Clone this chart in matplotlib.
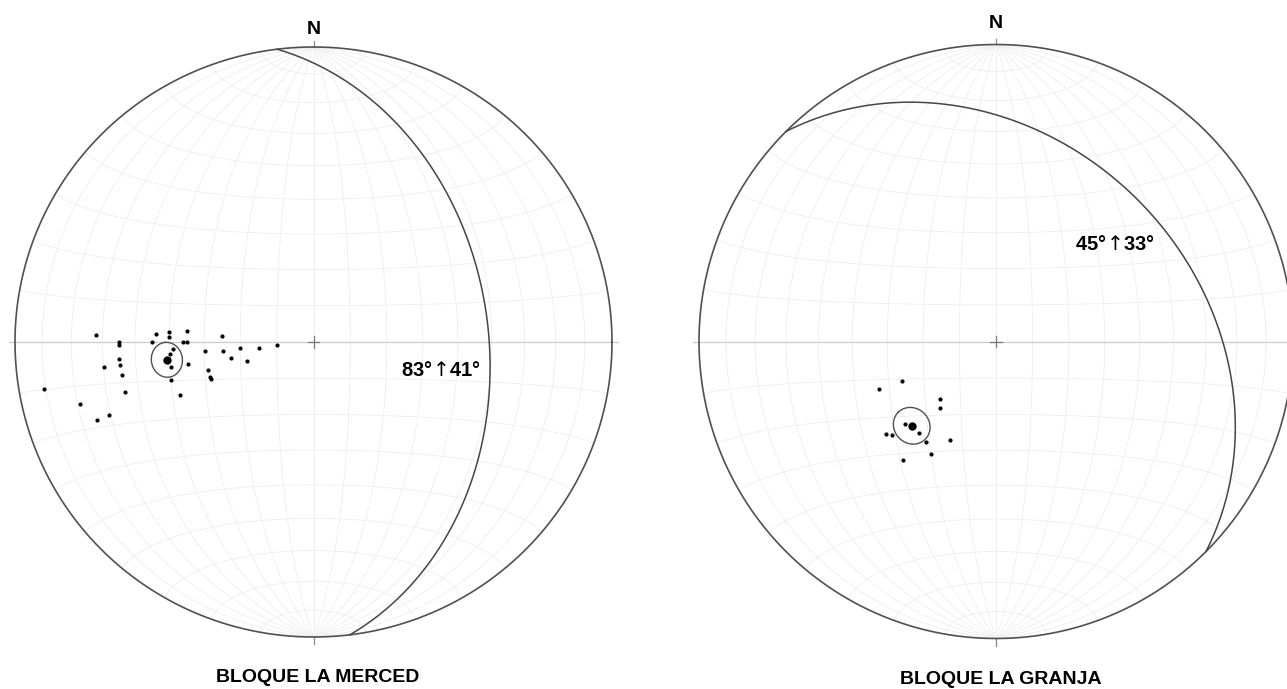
import numpy as np
import matplotlib.pyplot as plt

# poles (trend, plunge in degrees), lower hemisphere equal-area net
merced_trend = [272, 270, 269, 265, 263, 263, 260, 255, 260, 255, 250, 250,
                273, 274, 275, 270, 272, 270, 270, 267, 265, 260, 255, 260,
                248, 265, 255, 251, 250, 274, 264, 259, 265, 254, 264, 265]
merced_plunge = [28, 35, 35, 35, 30, 35, 35, 35, 9, 20, 24, 28,
                 46, 50, 55, 45, 50, 54, 55, 51, 50, 50, 49, 55,
                 50, 60, 60, 60, 60, 65, 65, 67, 70, 71, 75, 80]
merced_plane = (83, 41)   # dip direction, dip of mean plane
merced_a95 = 4.5

granja_trend = [247, 248, 224, 220, 228, 220, 230, 228, 215, 205, 210, 218]
granja_plunge = [62, 55, 68, 66, 56, 57, 50, 51, 56, 60, 54, 48]
granja_plane = (45, 33)
granja_a95 = 5.0

FONT = ['Liberation Sans', 'DejaVu Sans']
plt.rcParams['mathtext.fontset'] = 'dejavusans'


def vec(trend, plunge):
    t = np.radians(trend)
    p = np.radians(plunge)
    return np.array([np.cos(p) * np.sin(t), np.cos(p) * np.cos(t), np.sin(p)])


def proj(v):
    # equal-area lower hemisphere, v = (east, north, down)
    e, n, d = v
    k = np.sqrt(1.0 / (1.0 + d))
    return e * k, n * k


def great_circle(dipdir, dip, n=361):
    s = vec(dipdir - 90, 0)
    dv = vec(dipdir, dip)
    b = np.linspace(0, np.pi, n)
    v = np.outer(s, np.cos(b)) + np.outer(dv, np.sin(b))
    return proj(v)


def small_circle(axis, alpha, n=361):
    a = axis / np.linalg.norm(axis)
    tmp = np.array([0, 0, 1.0]) if abs(a[2]) < 0.9 else np.array([1.0, 0, 0])
    b = np.cross(a, tmp)
    b /= np.linalg.norm(b)
    c = np.cross(a, b)
    phi = np.linspace(0, 2 * np.pi, n)
    al = np.radians(alpha)
    v = (np.outer(a, np.ones_like(phi)) * np.cos(al)
         + np.sin(al) * (np.outer(b, np.cos(phi)) + np.outer(c, np.sin(phi))))
    x, y = proj(np.where(v[2] >= -1e-9, v, np.nan))
    return x, y


def draw_net(ax, trend, plunge, plane, a95, title, lab_xy, n_y):
    grid = dict(color='#eeeeee', lw=0.6, zorder=1)
    for dip in range(10, 90, 10):
        for dd in (90, 270):
            ax.plot(*great_circle(dd, dip), **grid)
    ax.plot([0, 0], [-1, 1], **grid)
    phi = np.linspace(0, np.pi, 181)
    for al in range(10, 90, 10):
        a = np.radians(al)
        for sgn in (1, -1):
            v = np.array([np.sin(a) * np.cos(phi), sgn * np.cos(a) * np.ones_like(phi),
                          np.sin(a) * np.sin(phi)])
            ax.plot(*proj(v), **grid)

    ax.plot([-1.02, 1.02], [0, 0], color='#cccccc', lw=0.9, zorder=2)
    ax.plot([0, 0], [1.0, 1.02], color='#888888', lw=0.9, zorder=2)
    ax.plot([0, 0], [-1.0, -1.025], color='#888888', lw=0.9, zorder=2)
    ax.plot([-0.02, 0.02], [0, 0], color='#777777', lw=0.9, zorder=2)
    ax.plot([0, 0], [-0.02, 0.02], color='#777777', lw=0.9, zorder=2)

    th = np.linspace(0, 2 * np.pi, 721)
    ax.plot(np.cos(th), np.sin(th), color='#505050', lw=1.2, zorder=3)
    ax.plot(*great_circle(*plane), color='#454545', lw=1.1, zorder=3)

    x, y = proj(vec(np.array(trend), np.array(plunge)))
    ax.plot(x, y, 'o', color='black', ms=3.0, mew=0, zorder=5)

    pole = vec(plane[0] + 180, 90 - plane[1])
    ax.plot(*proj(pole), 'o', color='black', ms=6, mew=0, zorder=6)
    ax.plot(*small_circle(pole, a95), color='#505050', lw=1.0, zorder=4)

    txt = dict(fontfamily=FONT, fontweight='bold', ha='center', va='center')
    ax.text(0, n_y, 'N', fontsize=14, **txt)
    ax.text(lab_xy[0], lab_xy[1], f'{plane[0]}°$\\!\\uparrow\\!${plane[1]}°',
            fontsize=14.5, **txt)
    ax.text(0.015, -1.138, title, fontsize=14, **txt)

    ax.set_xlim(-1.1, 1.1)
    ax.set_ylim(-1.1, 1.1)
    ax.set_aspect('auto')
    ax.axis('off')


W, H = 1287, 689
fig = plt.figure(figsize=(W / 100, H / 100), dpi=100)


def place(cx, cy, rx, ry):
    return [(cx - 1.1 * rx) / W, (H - cy - 1.1 * ry) / H, 2.2 * rx / W, 2.2 * ry / H]


ax1 = fig.add_axes(place(313.5, 342, 298.5, 295))
draw_net(ax1, merced_trend, merced_plunge, merced_plane, merced_a95,
         'BLOQUE LA MERCED', (0.427, -0.095), 1.059)

ax2 = fig.add_axes(place(996, 341.5, 297, 297))
draw_net(ax2, granja_trend, granja_plunge, granja_plane, granja_a95,
         'BLOQUE LA GRANJA', (0.40, 0.328), 1.07)

fig.savefig('out.png', dpi=100, facecolor='white')
